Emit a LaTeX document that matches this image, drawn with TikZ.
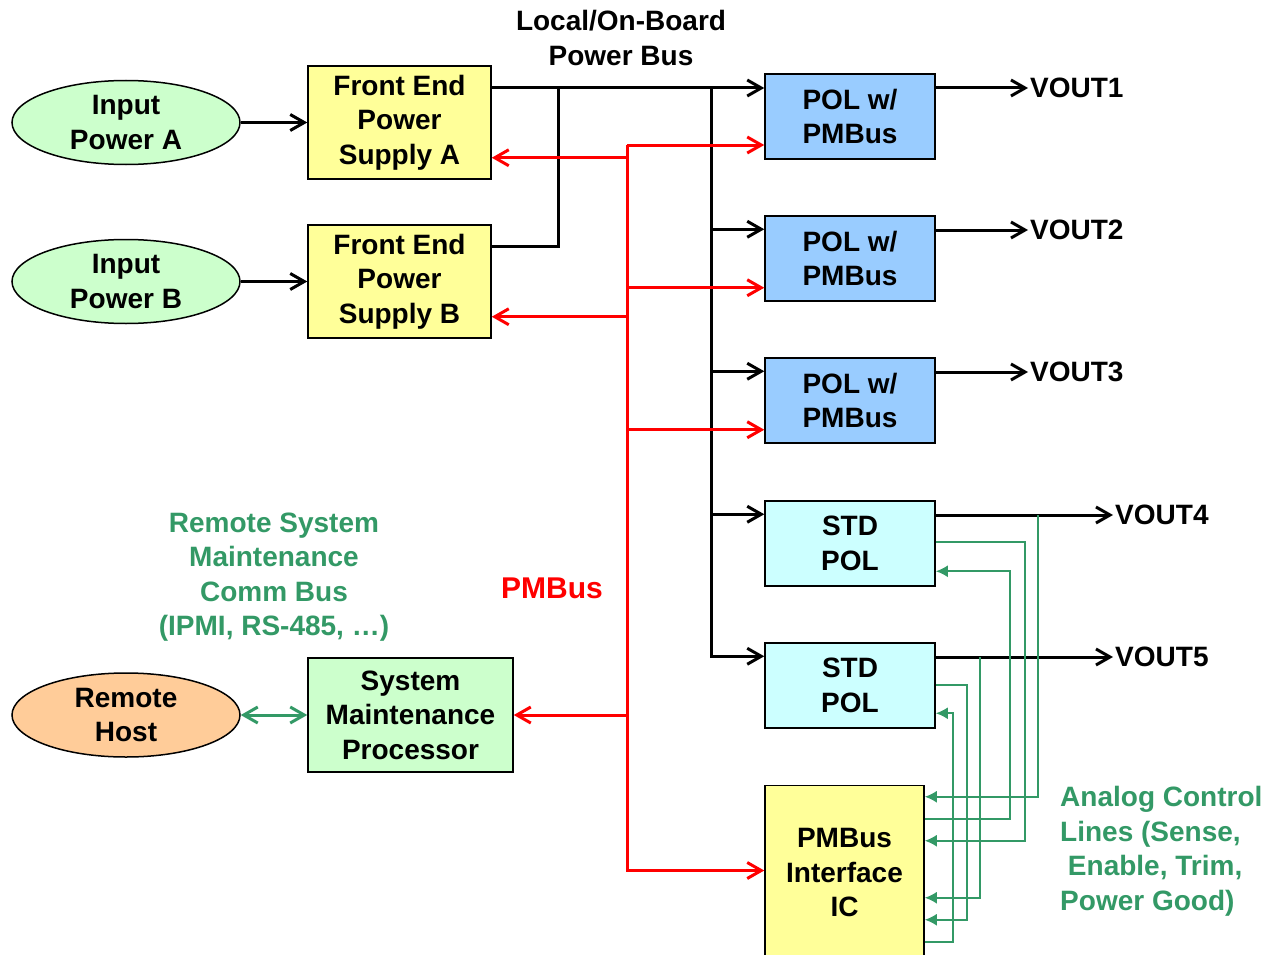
\documentclass[tikz,border=0pt]{standalone}
\usepackage{fontspec}
\setmainfont{Liberation Sans}
\usepackage{tikz}
\usetikzlibrary{shapes.geometric,arrows.meta,positioning,calc}
\definecolor{psuyellow}{RGB}{255,255,153}
\definecolor{polblue}{RGB}{153,204,255}
\definecolor{stdcyan}{RGB}{204,255,255}
\definecolor{srcgreen}{RGB}{204,255,204}
\definecolor{hostorange}{RGB}{255,204,153}
\definecolor{anagreen}{RGB}{51,153,102}
\definecolor{pmbred}{RGB}{255,0,0}

\begin{document}
\begin{tikzpicture}[x=1pt, y=-1pt,
  font=\bfseries\fontsize{28}{34.5}\selectfont,
  src/.style={ellipse, draw, line width=1.5pt, fill=srcgreen, minimum width=228pt,
    minimum height=84pt, inner sep=0pt, align=center},
  box/.style={rectangle, draw, line width=1.5pt, inner sep=0pt, align=center},
  psu/.style={box, fill=psuyellow, minimum width=183pt, minimum height=113pt},
  pol/.style={box, fill=polblue, minimum width=170pt, minimum height=85pt},
  stdpol/.style={box, fill=stdcyan, minimum width=170pt, minimum height=85pt},
  vout/.style={anchor=west, inner sep=2pt},
  barb/.style={-{Straight Barb[length=14pt, width=16pt]}},
  wire/.style={line width=3pt, black},
  bus/.style={line width=3pt, pmbred},
  ana/.style={line width=2pt, anagreen, -{Latex[length=12pt, width=12pt]}},
  note/.style={align=center, inner sep=0pt}]
\useasboundingbox (0,0) rectangle (1268,955);

% sources and front ends
\node[psu] (feA) at (399.5,122.5) {Front End\\Power\\Supply A};
\node[psu, below=44.5pt of feA] (feB) {Front End\\Power\\Supply B};
\node[src, left=66.5pt of feA] (inA) {Input\\Power A};
\node[src, left=66.5pt of feB] (inB) {Input\\Power B};
\node[psu, fill=srcgreen, minimum width=205pt, minimum height=114pt] (smp) at (410.5,715)
  {System\\Maintenance\\Processor};
\node[src, fill=hostorange, left=66.5pt of smp] (host) {Remote\\Host};

% point of load converters
\node[pol] (pol1) at (850,116.5) {POL w/\\PMBus};
\node[pol, below=55.5pt of pol1] (pol2) {POL w/\\PMBus};
\node[pol, below=55.5pt of pol2] (pol3) {POL w/\\PMBus};
\node[stdpol, below=56.5pt of pol3] (std1) {STD\\POL};
\node[stdpol, below=55.5pt of std1] (std2) {STD\\POL};
\node[box, fill=psuyellow, minimum width=159pt, minimum height=174pt,
  below=56pt of std2, xshift=-5.5pt] (ic) {PMBus\\Interface\\IC};

\node[vout] (v1) at (1028,88) {VOUT1};
\node[vout] (v2) at (1028,230) {VOUT2};
\node[vout] (v3) at (1028,372) {VOUT3};
\node[vout] (v4) at (1113,515) {VOUT4};
\node[vout] (v5) at (1113,657) {VOUT5};

% labels
\node[note] (lbus) at (621,38) {Local/On-Board\\Power Bus};
\node[note, pmbred, font=\bfseries\fontsize{30}{36}\selectfont] (lpmb) at (552,588) {PMBus};
\node[note, anagreen] (lcomm) at (274,577) {Remote System\\Maintenance\\Comm Bus\\(IPMI, RS-485, …)};
\node[note, anagreen, align=left, anchor=west] (lana) at (1060,851)
  {Analog Control\\Lines (Sense,\\\ Enable, Trim,\\Power Good)};

% power bus
\coordinate (busL) at (558,88);
\coordinate (busR) at (711,88);
\draw[wire, barb] (inA) -- (feA);
\draw[wire, barb] (inB) -- (feB);
\draw[wire, barb] (feA.east |- busL) -- (pol1.west |- busL);
\draw[wire] ([yshift=-22pt]feB.north east) -| (busL);
\foreach \n in {pol2,pol3,std1,std2}
  \coordinate (\n-in) at ([yshift=-14pt]\n.north west);
\foreach \n in {pol2,pol3,std1}
  \draw[wire, barb] (busR |- \n-in) -- (\n-in);
\draw[wire, barb] (busR) |- (std2-in);
\draw[wire, barb] (pol1.east |- v1) -- (v1.west);
\draw[wire, barb] (pol2.east |- v2) -- (v2.west);
\draw[wire, barb] (pol3.east |- v3) -- (v3.west);
\draw[wire, barb] (std1.east |- v4) -- (v4.west);
\draw[wire, barb] (std2.east |- v5) -- (v5.west);

% PMBus
\coordinate (pmb) at (627,145);
\foreach \n in {pol2,pol3}
  \coordinate (\n-pm) at ([yshift=14pt]\n.south west);
\foreach \n in {feA,feB}
  \coordinate (\n-pm) at ([yshift=22pt]\n.south east);
\draw[bus, barb] (pmb) -- (pol1.west |- pmb);
\draw[bus, barb] (pmb) |- ([yshift=2pt]ic.west);
\foreach \n in {pol2,pol3,feA,feB}
  \draw[bus, barb] (pmb |- \n-pm) -- (\n-pm);
\draw[bus, barb] (pmb |- smp.east) -- (smp.east);

% remote link
\draw[line width=3pt, anagreen, {Straight Barb[length=14pt, width=16pt]}-{Straight Barb[length=14pt, width=16pt]}]
  (host) -- (smp);

% analog control lines
\coordinate (tap4) at (1038,515);
\coordinate (tap5) at (980,657);
\draw[ana] (tap4) |- ([yshift=-12pt]ic.north east);
\draw[ana] ([yshift=-42pt]std1.north east) -- ++(89,0) |- ([yshift=-56pt]ic.north east);
\draw[ana] ([yshift=-34pt]ic.north east) -- ++(85,0) |- ([yshift=-71pt]std1.north east);
\draw[ana] (tap5) |- ([yshift=-113pt]ic.north east);
\draw[ana] ([yshift=-43pt]std2.north east) -- ++(31,0) |- ([yshift=-135pt]ic.north east);
\draw[ana] ([yshift=-157pt]ic.north east) -- ++(28,0) |- ([yshift=-71pt]std2.north east);
\end{tikzpicture}
\end{document}
